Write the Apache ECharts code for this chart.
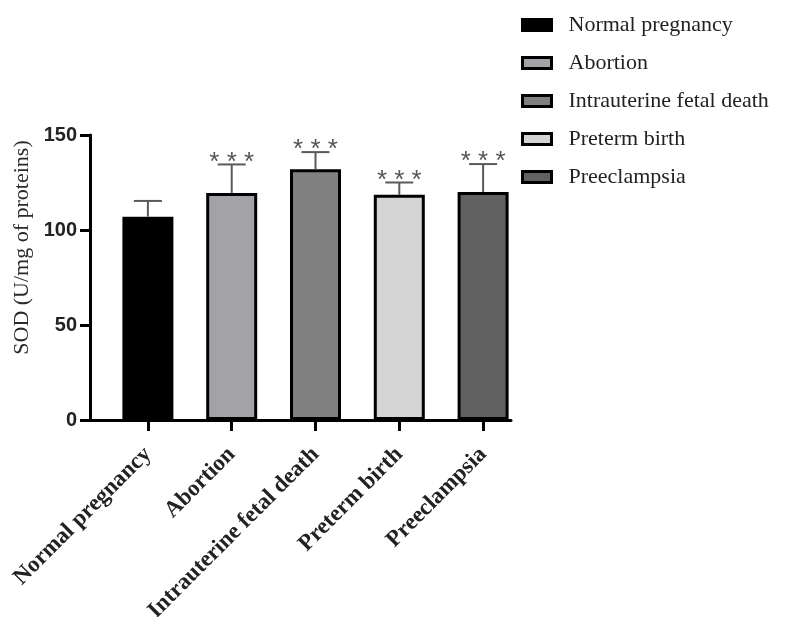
<!DOCTYPE html>
<html>
<head>
<meta charset="utf-8">
<script src="https://cdn.jsdelivr.net/npm/echarts@6/dist/echarts.min.js"></script>
<style>
  html, body { margin: 0; padding: 0; background: #fff; }
  #chart { width: 788px; height: 617px; }
</style>
</head>
<body>
<div id="chart"></div>
<script>
// Groups and SOD activity (mean with upper SD whisker)
const categories = ['Normal pregnancy', 'Abortion', 'Intrauterine fetal death', 'Preterm birth', 'Preeclampsia'];
const means = [107, 119.5, 132, 118.5, 120];
const errors = [8.3, 15, 9, 6.5, 14.7];
const stars = ['', '***', '***', '***', '***'];
const yTicks = { min: 0, max: 150, interval: 50 };

// Fill shade for each group
const fills = ['#000000', '#a3a3a7', '#808080', '#d4d4d4', '#616161'];

const serif = 'Liberation Serif, Times New Roman, serif';
const sans = 'Liberation Sans, Arial, sans-serif';

const barSeries = categories.map((name, i) => ({
  type: 'bar',
  name: name,
  xAxisIndex: 0,
  yAxisIndex: 0,
  barWidth: 51,
  barGap: '-100%',
  data: means.map((v, j) => (j === i ? v : '-')),
  itemStyle: { color: fills[i], borderColor: '#000', borderWidth: 3 },
  emphasis: { disabled: true }
}));

const errorSeries = {
  type: 'custom',
  xAxisIndex: 0,
  yAxisIndex: 0,
  z: 5,
  data: means.map((m, i) => [i, m, m + errors[i]]),
  renderItem: function (params, api) {
    const x = api.value(0);
    const base = api.coord([x, api.value(1)]);
    const top = api.coord([x, api.value(2)]);
    const half = 14;
    const style = { stroke: '#5a5a5a', lineWidth: 2 };
    const children = [
      { type: 'line', shape: { x1: top[0], y1: base[1], x2: top[0], y2: top[1] }, style: style },
      { type: 'line', shape: { x1: top[0] - half, y1: top[1], x2: top[0] + half, y2: top[1] }, style: style }
    ];
    const mark = stars[params.dataIndex];
    if (mark) {
      children.push({
        type: 'text',
        style: {
          text: mark.split('').join(' '),
          x: top[0],
          y: top[1] - 2,
          align: 'center',
          verticalAlign: 'middle',
          font: '26px ' + sans,
          fill: '#555'
        }
      });
    }
    return { type: 'group', children: children };
  }
};

const chart = echarts.init(document.getElementById('chart'), null, { renderer: 'canvas' });
chart.setOption({
  animation: false,
  backgroundColor: '#fff',
  legend: {
    orient: 'vertical',
    left: 516,
    top: 9,
    icon: 'rect',
    itemWidth: 29,
    itemHeight: 11,
    itemGap: 16,
    data: categories,
    itemStyle: { borderColor: '#000', borderWidth: 3 },
    textStyle: { fontFamily: serif, fontSize: 22, lineHeight: 22, color: '#222', padding: [0, 0, 0, 12] }
  },
  grid: [
    { left: 106, top: 135, width: 419, height: 285, outerBoundsMode: 'none', containLabel: false },
    { left: 90, top: 135, width: 421, height: 285, outerBoundsMode: 'none', containLabel: false }
  ],
  xAxis: [
    {
      type: 'category',
      gridIndex: 0,
      data: categories,
      axisLine: { show: false },
      axisTick: { show: true, alignWithLabel: true, length: 11, lineStyle: { color: '#000', width: 3 } },
      axisLabel: { rotate: 45, margin: 31, interval: 0, fontFamily: serif, fontWeight: 'bold', fontSize: 23, color: '#222' },
      splitLine: { show: false }
    },
    {
      type: 'value',
      gridIndex: 1,
      min: 0,
      max: 1,
      axisLine: { show: true, lineStyle: { color: '#000', width: 3 } },
      axisTick: { show: false },
      axisLabel: { show: false },
      splitLine: { show: false }
    }
  ],
  yAxis: [
    {
      type: 'value',
      gridIndex: 0,
      min: yTicks.min,
      max: yTicks.max,
      interval: yTicks.interval,
      show: false
    },
    {
      type: 'value',
      gridIndex: 1,
      min: yTicks.min,
      max: yTicks.max,
      interval: yTicks.interval,
      name: 'SOD (U/mg of proteins)',
      nameLocation: 'middle',
      nameRotate: 90,
      nameGap: 57,
      nameTextStyle: { fontFamily: serif, fontSize: 22, color: '#2a2a2a', padding: [0, 0, 0, 60] },
      axisLine: { show: true, lineStyle: { color: '#000', width: 3 } },
      axisTick: { show: true, length: 10, lineStyle: { color: '#000', width: 3 } },
      axisLabel: { margin: 13, fontFamily: sans, fontWeight: 'bold', fontSize: 20, color: '#222' },
      splitLine: { show: false }
    }
  ],
  series: barSeries.concat([errorSeries])
});
</script>
</body>
</html>
